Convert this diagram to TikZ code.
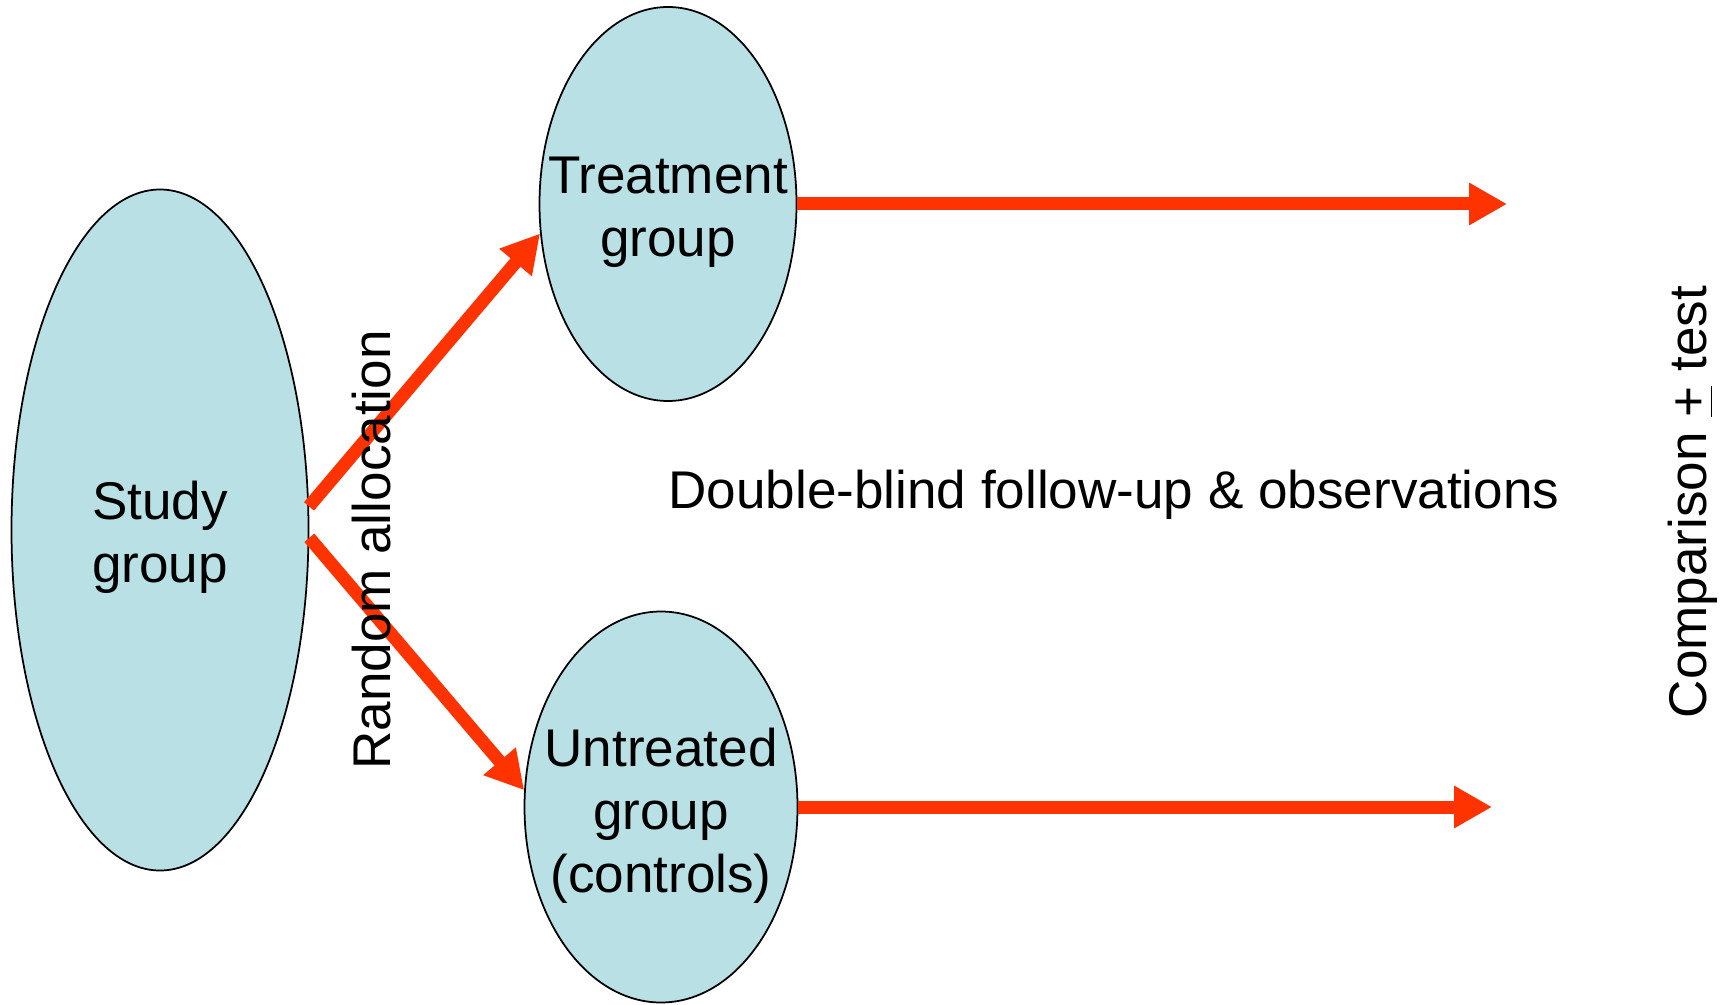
\documentclass[tikz,border=0pt]{standalone}
\usepackage{fontspec}
\setmainfont{Liberation Sans}
\usetikzlibrary{arrows.meta,shapes.geometric}
\definecolor{grpfill}{RGB}{185,224,228}
\definecolor{flowred}{RGB}{255,51,0}

\begin{document}
\begin{tikzpicture}[font=\fontsize{15.1}{17.9}\selectfont,
  grp/.style={ellipse,draw=black,line width=0.5pt,fill=grpfill,inner sep=0pt},
  flow/.style={draw=flowred,line width=3.7pt,-{Triangle[length=3.8mm,width=4mm]}}]
  \useasboundingbox (0,0) rectangle (17.27,10.04);
  % groups
  \node[grp,minimum width=2.97cm,minimum height=6.81cm] (study) at (1.60,4.74) {};
  \node[grp,minimum width=2.57cm,minimum height=3.94cm] (treat) at (6.68,8.00) {};
  \node[grp,minimum width=2.73cm,minimum height=3.91cm] (untr) at (6.61,1.97) {};
  \node[align=center] (studytxt) at (1.60,4.67) {Study\\group};
  \node[align=center] (treattxt) at (6.68,7.92) {Treatment\\group};
  \node[align=center] (untrtxt) at (6.61,1.88) {Untreated\\group\\(controls)};
  % random allocation
  \draw[flow] (study.9) -- (treat.193);
  \draw[flow] (study.-3) -- (untr.173);
  \node[rotate=90] (alloc) at (3.72,4.54) {Random allocation};
  % follow-up
  \coordinate (tend) at (15.07,8.00);
  \coordinate (uend) at (14.92,1.97);
  \foreach \g/\e in {treat/tend,untr/uend} \draw[flow] (\g.east) -- (\e);
  \node (follow) at (11.14,5.09) {Double-blind follow-up \& observations};
  \node[rotate=90] (compare) at (16.93,5.02) {Comparison \underline{+} test};
\end{tikzpicture}
\end{document}
